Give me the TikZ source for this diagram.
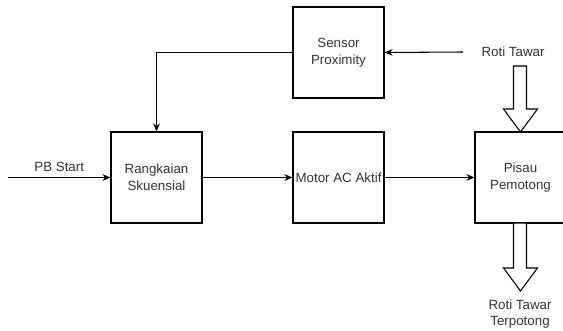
\documentclass[tikz,border=0pt]{standalone}
\usepackage{fontspec}
\setmainfont{Liberation Sans}
\usetikzlibrary{arrows.meta, positioning}

\begin{document}
\begin{tikzpicture}[x=0.75pt,y=-0.75pt,
  blok/.style={draw, line width=0.8pt, minimum width=68.25pt, minimum height=68.25pt,
    inner sep=0pt, align=center, text=black!80, font=\fontsize{10pt}{12.5pt}\selectfont},
  teks/.style={align=center, text=black!80, font=\fontsize{10pt}{12.5pt}\selectfont},
  pfeil/.style={-{Stealth[length=6pt,width=5pt]}, line width=0.8pt},
  hohl/.style={draw, line width=0.8pt, fill=white}]
  \useasboundingbox (0,0) rectangle (563,331);
  % blocks
  \node[blok] (sensor)    at (338.5,52.5)  {Sensor\\Proximity};
  \node[blok] (rangkaian) at (156.5,177.5) {Rangkaian\\Skuensial};
  \node[blok] (motor)     at (338.5,177.5) {Motor AC Aktif};
  \node[blok] (pisau)     at (520.5,177.5) {Pisau\\Pemotong};
  % texts
  \node[teks] (roti)   at (513,52)  {Roti Tawar};
  \node[teks] (hasil)  at (520,314) {Roti Tawar\\Terpotong};
  \coordinate (rotiin) at (463,52);
  \coordinate (mulai)  at (8,177.5);
  % connectors
  \draw[pfeil] (mulai) -- (rangkaian.west) node[midway,above,teks,yshift=1pt] {PB Start};
  \draw[pfeil] (rangkaian.east) -- (motor.west);
  \draw[pfeil] (motor.east) -- (pisau.west);
  \draw[pfeil] (sensor.west) -| (rangkaian.north);
  \draw[pfeil] (rotiin) -- (sensor.east);
  % hollow arrows
  \draw[hohl] (513.5,66) -- (526.5,66) -- (526.5,109) -- (537.5,109) -- (520.5,132)
    -- (503.5,109) -- (513.5,109) -- cycle;
  \draw[hohl] (513.5,223) -- (526.5,223) -- (526.5,268) -- (537.5,268) -- (520.5,291)
    -- (503.5,268) -- (513.5,268) -- cycle;
\end{tikzpicture}
\end{document}
